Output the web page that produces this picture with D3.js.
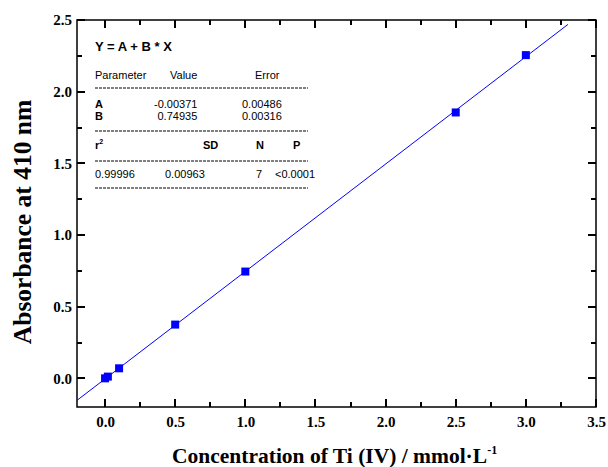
<!DOCTYPE html>
<html lang="en">
<head>
    <meta charset="UTF-8">
    <script src="https://d3js.org/d3.v7.min.js"></script>
    <title>Ti calibration</title>
    <style>
        body { margin: 0; background: #fff; }
        .ticklabels text { font-family: 'Liberation Serif', 'Times New Roman', serif; font-weight: bold; font-size: 15px; fill: #000; }
        text.axlabel { font-family: 'Liberation Serif', 'Times New Roman', serif; font-weight: bold; fill: #000; }
        text.tbl { font-family: 'Liberation Sans', Arial, sans-serif; fill: #000; }
    </style>
</head>
<body>
<svg height="467" width="608"></svg>
<script>
    const width = 608, height = 467;

    // measured points
    const conc = [0, 0.02, 0.1, 0.5, 1.0, 2.5, 3.0];
    const absorb = [0.0, 0.012, 0.07, 0.375, 0.745, 1.855, 2.255];

    // linear fit Y = A + B * X
    const fitA = -0.00371, fitB = 0.74935;
    const fitRange = [-0.2, 3.3];

    const xMajor = [0, 0.5, 1.0, 1.5, 2.0, 2.5, 3.0, 3.5];
    const xMinor = [0.25, 0.75, 1.25, 1.75, 2.25, 2.75, 3.25];
    const yMajor = [0, 0.5, 1.0, 1.5, 2.0, 2.5];
    const yMinor = [0.25, 0.75, 1.25, 1.75, 2.25];

    // fit result table
    const tableTitle = "Y = A + B * X";
    const paramHead = ["Parameter", "Value", "Error"];
    const paramRows = [["A", "-0.00371", "0.00486"], ["B", "0.74935", "0.00316"]];
    const statHead = ["r", "SD", "N", "P"];
    const statRow = ["0.99996", "0.00963", "7", "<0.0001"];

    const mLeft = 77, mRight = 596, mTop = 20, mBottom = 407;

    const x = d3.scaleLinear().domain([-0.2, 3.5]).range([mLeft, mRight]);
    const y = d3.scaleLinear().domain([-0.2, 2.5]).range([mBottom, mTop]);

    const svg = d3.select("svg");

    svg.append("rect")
        .attr("x", mLeft).attr("y", mTop)
        .attr("width", mRight - mLeft).attr("height", mBottom - mTop)
        .attr("fill", "none").attr("stroke", "#000").attr("stroke-width", 1.5);

    // inward tick marks on all four edges
    const tickG = svg.append("g").attr("stroke", "#000").attr("stroke-width", 2);
    function xTicks(values, len) {
        tickG.append("g").selectAll("line").data(values).join("line")
            .attr("x1", (d) => Math.round(x(d))).attr("x2", (d) => Math.round(x(d)))
            .attr("y1", mBottom).attr("y2", mBottom - len);
        tickG.append("g").selectAll("line").data(values).join("line")
            .attr("x1", (d) => Math.round(x(d))).attr("x2", (d) => Math.round(x(d)))
            .attr("y1", mTop).attr("y2", mTop + len);
    }
    function yTicks(values, len) {
        tickG.append("g").selectAll("line").data(values).join("line")
            .attr("y1", (d) => Math.round(y(d))).attr("y2", (d) => Math.round(y(d)))
            .attr("x1", mLeft).attr("x2", mLeft + len);
        tickG.append("g").selectAll("line").data(values).join("line")
            .attr("y1", (d) => Math.round(y(d))).attr("y2", (d) => Math.round(y(d)))
            .attr("x1", mRight).attr("x2", mRight - len);
    }
    xTicks(xMajor, 8);
    xTicks(xMinor, 5);
    yTicks(yMajor, 8);
    yTicks(yMinor, 5);

    // tick labels
    function addAxis(axis, tx, ty) {
        const g = svg.append("g").attr("class", "ticklabels")
            .attr("transform", `translate(${tx},${ty})`).call(axis);
        g.select(".domain").remove();
        g.selectAll(".tick line").remove();
        return g;
    }
    addAxis(d3.axisBottom(x).tickValues(xMajor).tickFormat(d3.format(".1f"))
        .tickSize(0).tickPadding(9), 0, mBottom);
    addAxis(d3.axisLeft(y).tickValues(yMajor).tickFormat(d3.format(".1f"))
        .tickSize(0).tickPadding(5), mLeft, 0);

    // fit line
    svg.append("line")
        .attr("x1", x(fitRange[0])).attr("y1", y(fitA + fitB * fitRange[0]))
        .attr("x2", x(fitRange[1])).attr("y2", y(fitA + fitB * fitRange[1]))
        .attr("stroke", "#0000ff").attr("stroke-width", 1);

    // points
    svg.append("g").selectAll("rect").data(conc).join("rect")
        .attr("x", (d) => x(d) - 4)
        .attr("y", (d, i) => y(absorb[i]) - 4)
        .attr("width", 8).attr("height", 8)
        .attr("fill", "#0000ff");

    // axis titles
    svg.append("text").attr("class", "axlabel")
        .attr("transform", "translate(31,222) rotate(-90)")
        .attr("text-anchor", "middle")
        .attr("font-size", 25.5)
        .text("Absorbance at 410 nm");

    const xl = svg.append("text").attr("class", "axlabel")
        .attr("x", 172).attr("y", 463).attr("font-size", 21.5);
    xl.append("tspan").text("Concentration of Ti (IV) / mmol\u00b7L");
    xl.append("tspan").attr("dy", -9).attr("font-size", 12).text("-1");

    // table
    const tx = 95;
    const tbl = svg.append("g");
    tbl.append("text").attr("class", "tbl").attr("x", tx).attr("y", 51)
        .attr("font-weight", "bold").attr("font-size", 13).text(tableTitle);

    const headX = [tx, 170, 255];
    paramHead.forEach((t, i) => tbl.append("text").attr("class", "tbl").attr("font-size", 11)
        .attr("x", headX[i]).attr("y", 79).text(t));

    const rowX = [tx, 154, 242];
    paramRows.forEach((r, j) => r.forEach((t, i) =>
        tbl.append("text").attr("class", "tbl").attr("font-size", 11)
            .attr("x", rowX[i] + (i === 1 && t[0] !== "-" ? 3.5 : 0))
            .attr("y", 108 + j * 12)
            .attr("font-weight", i === 0 ? "bold" : null)
            .text(t)));

    const statX = [tx, 203, 256, 293];
    statHead.forEach((t, i) => {
        const s = tbl.append("text").attr("class", "tbl").attr("font-size", 11)
            .attr("x", statX[i]).attr("y", 149)
            .attr("font-weight", "bold").text(t);
        if (i === 0) s.append("tspan").attr("dy", -5).attr("font-size", 7).text("2");
    });

    const valX = [tx, 165, 256, 275];
    statRow.forEach((t, i) => tbl.append("text").attr("class", "tbl").attr("font-size", 11)
        .attr("x", valX[i]).attr("y", 178).text(t));

    const dashY = [88, 131, 161, 188];
    tbl.selectAll("line").data(dashY).join("line")
        .attr("x1", tx).attr("x2", 308)
        .attr("y1", (d) => d).attr("y2", (d) => d)
        .attr("stroke", "#000").attr("stroke-width", 1)
        .attr("stroke-dasharray", "3,1");
</script>
</body>
</html>
